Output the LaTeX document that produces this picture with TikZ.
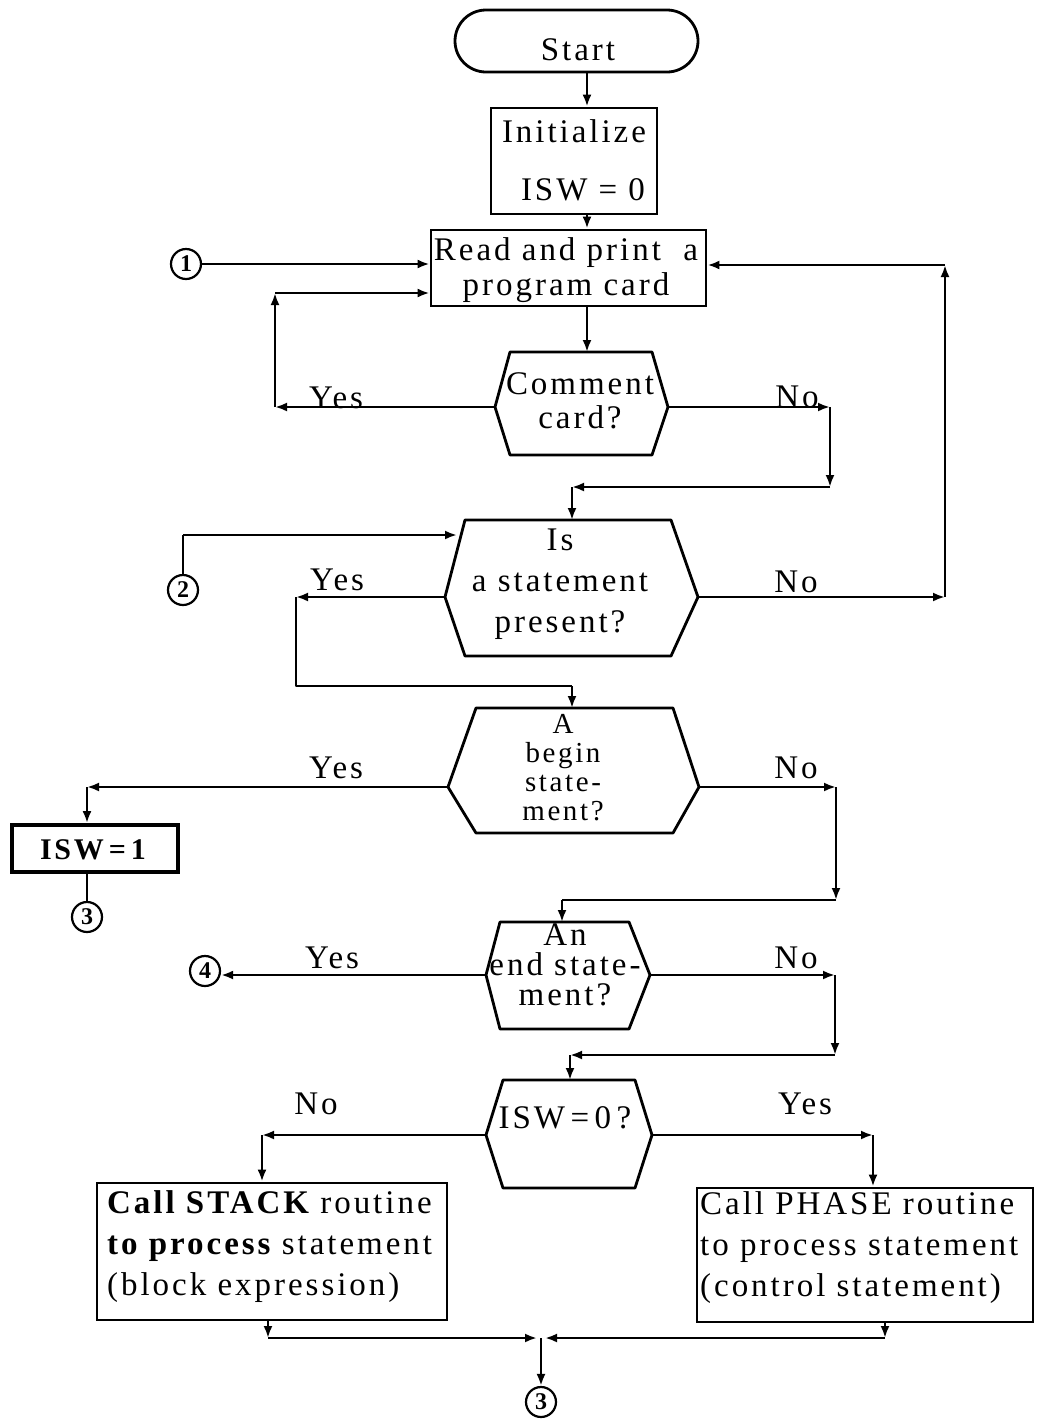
\documentclass[tikz,border=0pt]{standalone}
\usepackage{fontspec}
\setmainfont{Liberation Serif}[LetterSpace=9]
\usetikzlibrary{arrows.meta,fit}
\newcommand\hexa[8]{%
  \coordinate (#1-w) at (#2,#6);
  \coordinate (#1-e) at (#3,#6);
  \coordinate (#1-nw) at ({#2+#7},#4);
  \coordinate (#1-ne) at ({#3-#8},#4);
  \coordinate (#1-se) at ({#3-#8},#5);
  \coordinate (#1-sw) at ({#2+#7},#5);
  \node[fit=(#1-w)(#1-e)(#1-nw)(#1-se),inner sep=0pt] (#1) {};
  \draw[ln] (#1-w) -- (#1-nw) -- (#1-ne) -- (#1-e) -- (#1-se) -- (#1-sw) -- cycle;}
\begin{document}
\begin{tikzpicture}[x=1pt,y=-1pt,
  ln/.style={line width=2.8pt,line join=round},
  arr/.style={line width=2.8pt,-{Latex[length=12pt,width=9pt]}},
  box/.style={draw,line width=2.8pt,inner sep=0pt},
  txt/.style={inner sep=0pt,align=center,font=\fontsize{33}{35}\selectfont},
  lab/.style={inner sep=0pt,font=\fontsize{33}{35}\selectfont},
  conn/.style={draw,circle,line width=2.2pt,minimum size=30pt,inner sep=0pt,font=\fontsize{24}{26}\selectfont\bfseries}]
\fill[white] (0,0) rectangle (1038,1425);
\useasboundingbox (0,0) rectangle (1038,1425);

% boxes
\node[box,rounded corners=31pt,minimum width=243pt,minimum height=62pt] (start) at (576.5,41) {};
\node[txt] (tstart) at (578,50) {Start};
\node[box,minimum width=166pt,minimum height=106pt] (init) at (574,161) {};
\node[txt] (tinit1) at (574,131) {Initialize};
\node[txt] (tinit2) at (583,190) {ISW = 0};
\node[box,minimum width=275pt,minimum height=76pt] (read) at (568.5,268) {};
\node[txt] (tread) at (566,270) {Read and print\ \ a\\program card};

\hexa{cc}{495}{668}{352}{455}{407}{15}{16}
\node[txt,font=\fontsize{33}{34}\selectfont] (tcc) at (580,401) {Comment\\card?};
\hexa{stmt}{445}{698}{520}{656}{597}{20}{27}
\node[txt,font=\fontsize{33}{41}\selectfont] (tstmt) at (560,584) {Is\\a statement\\present?};
\hexa{beg}{448}{699}{708}{833}{787}{28}{26}
\node[txt,font=\fontsize{29}{29}\selectfont] (tbeg) at (563,768) {A\\begin\\state-\\ment?};
\hexa{endq}{486}{650}{922}{1029}{975}{14}{21}
\node[txt,font=\fontsize{33}{30}\selectfont] (tendq) at (565,965) {An\\end state-\\ment?};
\hexa{isw}{486}{652}{1080}{1188}{1135}{17}{17}
\node[txt] (tisw) at (565,1118) {ISW\,=\,0\,?};

\node[box,line width=3.8pt,minimum width=166pt,minimum height=47pt] (isw1) at (95,848.5) {};
\node[txt,font=\fontsize{30}{32}\selectfont\bfseries] (tisw1) at (93,850) {ISW\,=\,1};

\node[box,minimum width=350pt,minimum height=137pt] (stack) at (272,1251.5) {};
\node[txt,align=left,anchor=west,font=\fontsize{33}{41}\selectfont] (tstack) at (107,1247)
  {{\bfseries Call STACK} routine\\{\bfseries to process} statement\\(block expression)};
\node[box,minimum width=336pt,minimum height=134pt] (phase) at (865,1255) {};
\node[txt,align=left,anchor=west,font=\fontsize{33}{41}\selectfont] (tphase) at (700,1248)
  {Call PHASE routine\\to process statement\\(control statement)};

% connectors (circles)
\node[conn] (c1) at (186,264) {1};
\node[conn] (c2) at (183,590) {2};
\node[conn] (c3a) at (87,917) {3};
\node[conn] (c4) at (205,971) {4};
\node[conn] (c3b) at (541,1402) {3};

% labels
\node[lab] (y1) at (336,398) {Yes};
\node[lab] (n1) at (797,397) {No};
\node[lab] (y2) at (337,580) {Yes};
\node[lab] (n2) at (796,582) {No};
\node[lab] (y3) at (336,768) {Yes};
\node[lab] (n3) at (796,768) {No};
\node[lab] (y4) at (332,958) {Yes};
\node[lab] (n4) at (796,958) {No};
\node[lab] (n5) at (316,1104) {No};
\node[lab] (y5) at (805,1104) {Yes};

% coordinates
\coordinate (xa) at (587,0);
\coordinate (k1) at (275,407);
\coordinate (k2) at (275,293);
\coordinate (k3) at (830,407);
\coordinate (k4) at (830,487);
\coordinate (k5) at (572,487);
\coordinate (k6) at (183,535);
\coordinate (k7) at (457,535);
\coordinate (k8) at (945,597);
\coordinate (k9) at (945,265);
\coordinate (k10) at (296,597);
\coordinate (k11) at (296,686);
\coordinate (k12) at (572,686);
\coordinate (k13) at (87,787);
\coordinate (k14) at (836,787);
\coordinate (k15) at (836,900);
\coordinate (k16) at (562,900);
\coordinate (k17) at (835,975);
\coordinate (k18) at (835,1055);
\coordinate (k19) at (570,1055);
\coordinate (k20) at (262,1135);
\coordinate (k21) at (873,1135);
\coordinate (k22) at (268,1338);
\coordinate (k23) at (537,1338);
\coordinate (k24) at (885,1338);
\coordinate (k25) at (545,1338);
\coordinate (k26) at (541,1338);

% flow
\draw[arr] (start.south -| xa) -- (init.north -| xa);
\draw[arr] (init.south -| xa) -- (read.north -| xa);
\draw[arr] (c1.east) -- (c1.east -| read.west);
\draw[arr] (read.south -| xa) -- (cc-nw -| xa);
\draw[arr] (cc-w) -- (k1);
\draw[arr] (k1) -- (k2);
\draw[arr] (k2) -- (k2 -| read.west);
\draw[arr] (cc-e) -- (k3);
\draw[arr] (k3) -- (k4);
\draw[arr] (k4) -- (k5);
\draw[arr] (k5) -- (k5 |- stmt-nw);
\draw[ln] (c2.north) -- (k6);
\draw[arr] (k6) -- (k7);
\draw[arr] (stmt-e) -- (k8);
\draw[arr] (k8) -- (k9);
\draw[arr] (k9) -- (k9 -| read.east);
\draw[arr] (stmt-w) -- (k10);
\draw[ln] (k10) -- (k11) -- (k12);
\draw[arr] (k12) -- (k12 |- beg-nw);
\draw[arr] (beg-w) -- (k13);
\draw[arr] (k13) -- (k13 |- isw1.north);
\draw[ln] (k13 |- isw1.south) -- (c3a.north);
\draw[arr] (beg-e) -- (k14);
\draw[arr] (k14) -- (k15);
\draw[ln] (k15) -- (k16);
\draw[arr] (k16) -- (k16 |- endq-nw);
\draw[arr] (endq-w) -- (endq-w -| c4.east);
\draw[arr] (endq-e) -- (k17);
\draw[arr] (k17) -- (k18);
\draw[arr] (k18) -- (k19);
\draw[arr] (k19) -- (k19 |- isw-nw);
\draw[arr] (isw-w) -- (k20);
\draw[arr] (k20) -- (k20 |- stack.north);
\draw[arr] (isw-e) -- (k21);
\draw[arr] (k21) -- (k21 |- phase.north);
\draw[arr] (k22 |- stack.south) -- (k22);
\draw[arr] (k22) -- (k23);
\draw[arr] (k24 |- phase.south) -- (k24);
\draw[arr] (k24) -- (k25);
\draw[arr] (k26) -- (c3b.north);
\end{tikzpicture}
\end{document}
